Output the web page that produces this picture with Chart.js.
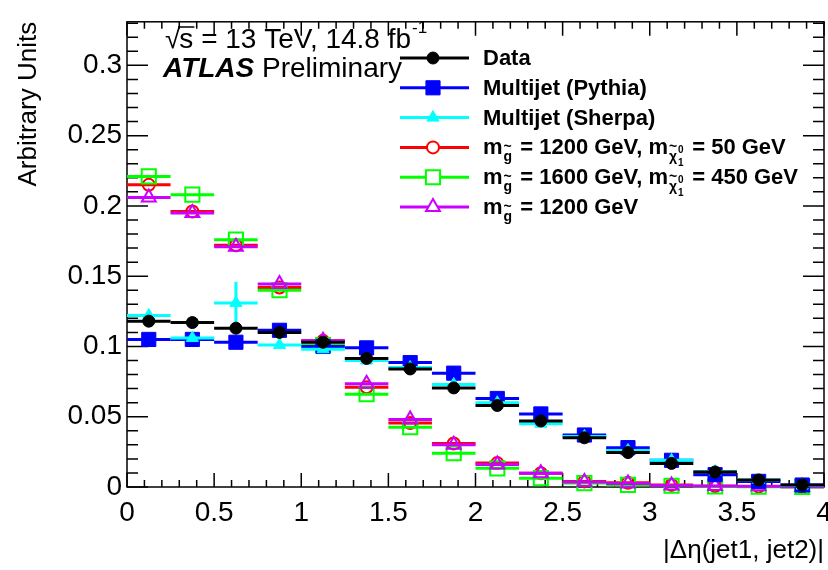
<!DOCTYPE html>
<html>
<head>
<meta charset="utf-8">
<script src="https://cdn.jsdelivr.net/npm/chart.js@4/dist/chart.umd.min.js"></script>
<style>
  body { margin: 0; background: #fff; }
  #wrap { width: 828px; height: 570px; position: relative; }
</style>
</head>
<body>
<div id="wrap"><canvas id="etaChart"></canvas></div>
<script>
// bin centres of |delta eta|, bins are 0.25 wide
const binCenters = [0.125, 0.375, 0.625, 0.875, 1.125, 1.375, 1.625, 1.875, 2.125, 2.375, 2.625, 2.875, 3.125, 3.375, 3.625, 3.875];
const binHalfWidth = 0.125;

const dataValues   = [0.118, 0.117, 0.113, 0.110, 0.103, 0.0915, 0.084, 0.0705, 0.058, 0.047, 0.035, 0.0245, 0.0168, 0.0107, 0.005, 0.0015];
const pythiaValues = [0.105, 0.105, 0.103, 0.1115, 0.100, 0.099, 0.0885, 0.081, 0.063, 0.052, 0.037, 0.028, 0.019, 0.0088, 0.004, 0.0014];
const sherpaValues = [0.122, 0.106, 0.131, 0.101, 0.098, 0.090, 0.085, 0.073, 0.060, 0.045, 0.036, 0.026, 0.019, 0.011, 0.005, 0.001];
const sherpaErrors = [0.003, 0.002, 0.015, 0.002, 0.002, 0.002, 0.002, 0.001, 0.001, 0.001, 0.001, 0.001, 0.001, 0.001, 0.0005, 0.0003];
const sig1200n50   = [0.215, 0.196, 0.172, 0.142, 0.104, 0.071, 0.0455, 0.031, 0.017, 0.0098, 0.004, 0.0030, 0.0015, 0.0006, 0.0003, 0.0001];
const sig1600n450  = [0.221, 0.208, 0.176, 0.140, 0.101, 0.066, 0.0425, 0.024, 0.0133, 0.0063, 0.0028, 0.0015, 0.0009, 0.0004, 0.0002, 0.0001];
const sig1200      = [0.206, 0.195, 0.171, 0.1445, 0.104, 0.0735, 0.048, 0.030, 0.016, 0.0098, 0.0035, 0.0025, 0.0010, 0.0008, 0.0005, 0.0001];

const xTickValues = [0, 0.5, 1, 1.5, 2, 2.5, 3, 3.5, 4];
const yTickValues = [0, 0.05, 0.1, 0.15, 0.2, 0.25, 0.3];

const FONT = "'Liberation Sans', Arial, Helvetica, sans-serif";

function points(values) {
    return values.map((v, i) => ({ x: binCenters[i], y: v }));
}

// dataset list, lower order is drawn on top
const datasets = [
    { label: 'Data', data: points(dataValues), color: '#000000', pointStyle: 'circle', pointRadius: 6, filled: true, order: 0 },
    { label: 'Multijet (Pythia)', data: points(pythiaValues), color: '#0000ff', pointStyle: 'rect', pointRadius: 10, filled: true, order: 2 },
    { label: 'Multijet (Sherpa)', data: points(sherpaValues), errors: sherpaErrors, color: '#00ffff', pointStyle: 'triangle', pointRadius: 7, filled: true, order: 1 },
    { label: 'm1200_50', data: points(sig1200n50), color: '#ff0000', pointStyle: 'circle', pointRadius: 6, filled: false, order: 5 },
    { label: 'm1600_450', data: points(sig1600n450), color: '#00ff00', pointStyle: 'rect', pointRadius: 10, filled: false, order: 4 },
    { label: 'm1200', data: points(sig1200), color: '#cc00ff', pointStyle: 'triangle', pointRadius: 8, filled: false, order: 3 }
].map(d => ({
    label: d.label,
    data: d.data,
    errors: d.errors,
    order: d.order,
    showLine: false,
    pointStyle: d.pointStyle,
    pointRadius: d.pointRadius,
    pointBorderColor: d.color,
    pointBackgroundColor: d.filled ? d.color : 'rgba(255,255,255,0)',
    pointBorderWidth: d.filled ? 1 : 2,
    borderColor: d.color,
    backgroundColor: d.color,
    clip: false
}));

// horizontal bin bars (and vertical errors) under each dataset's markers
const binBars = {
    id: 'binBars',
    beforeDatasetDraw(chart, args) {
        const ds = chart.data.datasets[args.index];
        const { ctx, scales: { x, y } } = chart;
        ctx.save();
        ctx.strokeStyle = ds.borderColor;
        ctx.lineWidth = 3;
        ds.data.forEach((p, i) => {
            const py = y.getPixelForValue(p.y);
            ctx.beginPath();
            ctx.moveTo(x.getPixelForValue(p.x - binHalfWidth), py);
            ctx.lineTo(x.getPixelForValue(p.x + binHalfWidth), py);
            ctx.stroke();
            if (ds.errors) {
                const px = x.getPixelForValue(p.x);
                ctx.beginPath();
                ctx.moveTo(px, y.getPixelForValue(p.y - ds.errors[i]));
                ctx.lineTo(px, y.getPixelForValue(p.y + ds.errors[i]));
                ctx.stroke();
            }
        });
        ctx.restore();
    }
};

// ROOT style frame with inward ticks on all four sides
const frameTicks = {
    id: 'frameTicks',
    beforeDatasetsDraw(chart) {
        const { ctx, chartArea: a, scales: { x, y } } = chart;
        ctx.save();
        ctx.strokeStyle = '#000';
        ctx.lineWidth = 1.5;
        ctx.strokeRect(a.left, a.top, a.right - a.left, a.bottom - a.top);
        ctx.beginPath();
        for (let i = 0; i <= 40; i++) {
            const px = x.getPixelForValue(i / 10);
            const len = i % 5 === 0 ? 14 : 7;
            ctx.moveTo(px, a.bottom); ctx.lineTo(px, a.bottom - len);
            ctx.moveTo(px, a.top); ctx.lineTo(px, a.top + len);
        }
        for (let i = 0; i <= 33; i++) {
            const py = y.getPixelForValue(i / 100);
            if (py < a.top) continue;
            const len = i % 5 === 0 ? 21 : 11;
            ctx.moveTo(a.left, py); ctx.lineTo(a.left + len, py);
            ctx.moveTo(a.right, py); ctx.lineTo(a.right - len, py);
        }
        ctx.stroke();
        ctx.restore();
    }
};

function drawMarker(ctx, style, x, y, r, color, filled) {
    ctx.save();
    ctx.strokeStyle = color;
    ctx.fillStyle = filled ? color : '#fff';
    ctx.lineWidth = filled ? 1 : 2;
    ctx.beginPath();
    if (style === 'circle') {
        ctx.arc(x, y, r, 0, Math.PI * 2);
    } else if (style === 'rect') {
        const s = r * Math.SQRT1_2;
        ctx.rect(x - s, y - s, 2 * s, 2 * s);
    } else {
        ctx.moveTo(x, y - r);
        ctx.lineTo(x + r * 0.866, y + r / 2);
        ctx.lineTo(x - r * 0.866, y + r / 2);
        ctx.closePath();
    }
    ctx.fill();
    ctx.stroke();
    ctx.restore();
}

// pieces: plain strings, 'GLUINO' (subscript g~), 'NEUTRALINO' (subscript chi~ with 0/1)
function drawRichText(ctx, pieces, x, y) {
    pieces.forEach(p => {
        if (p === 'GLUINO') {
            ctx.font = 'bold 14px ' + FONT;
            ctx.fillText('g', x + 1, y + 7);
            ctx.fillText('~', x + 1, y - 3);
            x += ctx.measureText('g').width + 3;
        } else if (p === 'NEUTRALINO') {
            ctx.font = 'bold 14px ' + FONT;
            ctx.fillText('χ', x + 1, y + 7);
            ctx.fillText('~', x + 1, y - 3);
            const w = ctx.measureText('χ').width;
            ctx.font = 'bold 10px ' + FONT;
            ctx.fillText('0', x + w + 2, y - 1);
            ctx.fillText('1', x + w + 2, y + 12);
            x += w + 10;
        } else {
            ctx.font = 'bold 22px ' + FONT;
            ctx.fillText(p, x, y);
            x += ctx.measureText(p).width;
        }
    });
}

const legendRows = [
    { style: 'circle', r: 6, color: '#000000', filled: true, text: ['Data'] },
    { style: 'rect', r: 10, color: '#0000ff', filled: true, text: ['Multijet (Pythia)'] },
    { style: 'triangle', r: 7, color: '#00ffff', filled: true, text: ['Multijet (Sherpa)'] },
    { style: 'circle', r: 6, color: '#ff0000', filled: false, text: ['m', 'GLUINO', ' = 1200 GeV, m', 'NEUTRALINO', ' = 50 GeV'] },
    { style: 'rect', r: 10, color: '#00ff00', filled: false, text: ['m', 'GLUINO', ' = 1600 GeV, m', 'NEUTRALINO', ' = 450 GeV'] },
    { style: 'triangle', r: 8, color: '#cc00ff', filled: false, text: ['m', 'GLUINO', ' = 1200 GeV'] }
];

const annotations = {
    id: 'annotations',
    afterDraw(chart) {
        const { ctx } = chart;
        ctx.save();
        ctx.fillStyle = '#000';
        ctx.textBaseline = 'alphabetic';

        // sqrt(s) line
        ctx.font = '28px ' + FONT;
        let x = 165;
        ctx.fillText('√', x, 48);
        x += ctx.measureText('√').width - 1;
        const sw = ctx.measureText('s').width;
        ctx.fillText('s', x, 48);
        ctx.lineWidth = 1.5;
        ctx.beginPath(); ctx.moveTo(x - 1, 27); ctx.lineTo(x + sw + 1, 27); ctx.stroke();
        x += sw;
        const main = ' = 13 TeV, 14.8 fb';
        ctx.fillText(main, x, 48);
        x += ctx.measureText(main).width;
        ctx.font = '17px ' + FONT;
        ctx.fillText('-1', x + 1, 33);

        ctx.font = 'italic bold 28px ' + FONT;
        ctx.fillText('ATLAS', 163, 77);
        const aw = ctx.measureText('ATLAS ').width;
        ctx.font = '28px ' + FONT;
        ctx.fillText('Preliminary', 163 + aw, 77);

        // legend
        legendRows.forEach((row, i) => {
            const ly = 58 + i * 29.8;
            ctx.strokeStyle = row.color;
            ctx.lineWidth = 3;
            ctx.beginPath(); ctx.moveTo(400, ly); ctx.lineTo(469, ly); ctx.stroke();
            drawMarker(ctx, row.style, 433, ly, row.r, row.color, row.filled);
            ctx.fillStyle = '#000';
            drawRichText(ctx, row.text, 483, ly + 7);
        });
        ctx.restore();
    }
};

new Chart(document.getElementById('etaChart'), {
    type: 'scatter',
    data: { datasets: datasets },
    options: {
        responsive: true,
        maintainAspectRatio: false,
        animation: false,
        layout: { autoPadding: false, padding: { top: 14, right: 4, left: 0, bottom: 0 } },
        plugins: { legend: { display: false }, tooltip: { enabled: false } },
        scales: {
            x: {
                type: 'linear',
                min: 0,
                max: 4,
                border: { display: false },
                grid: { display: false, drawTicks: false },
                afterBuildTicks: axis => { axis.ticks = xTickValues.map(v => ({ value: v })); },
                afterFit: axis => { axis.height = 83; axis.paddingLeft = 0; axis.paddingRight = 0; },
                ticks: {
                    padding: 9,
                    maxRotation: 0,
                    autoSkip: false,
                    color: '#000',
                    font: { family: FONT, size: 28 },
                    callback: v => String(+v.toFixed(2))
                },
                title: {
                    display: true,
                    text: '|Δη(jet1, jet2)|',
                    align: 'end',
                    color: '#000',
                    font: { family: FONT, size: 26 },
                    padding: { top: 0, bottom: 4 }
                }
            },
            y: {
                min: 0,
                max: 0.331,
                border: { display: false },
                grid: { display: false, drawTicks: false },
                afterBuildTicks: axis => { axis.ticks = yTickValues.map(v => ({ value: v })); },
                afterFit: axis => { axis.width = 127; },
                ticks: {
                    padding: 5,
                    autoSkip: false,
                    color: '#000',
                    font: { family: FONT, size: 28 },
                    callback: v => String(+v.toFixed(2))
                },
                title: {
                    display: true,
                    text: 'Arbitrary Units',
                    align: 'end',
                    color: '#000',
                    font: { family: FONT, size: 26 },
                    padding: { top: 13, bottom: 0 }
                }
            }
        }
    },
    plugins: [frameTicks, binBars, annotations]
});
</script>
</body>
</html>
